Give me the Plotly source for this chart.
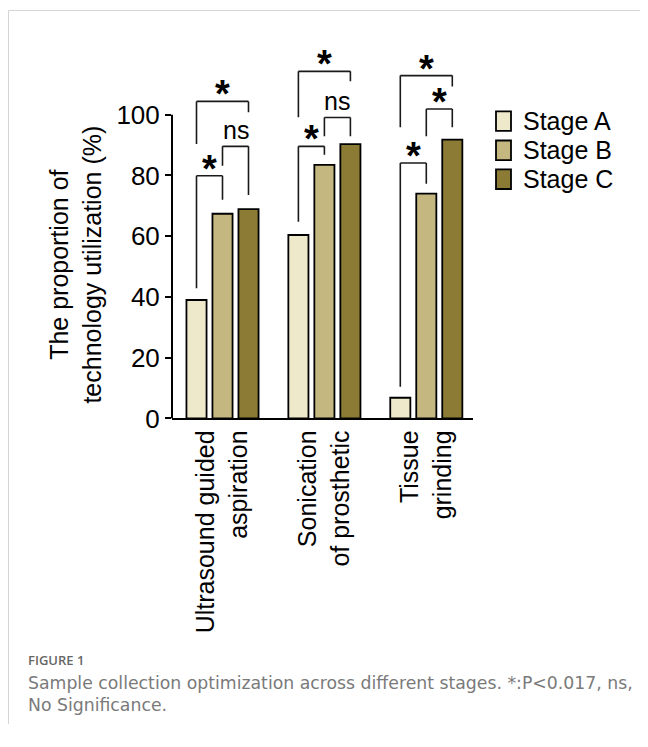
import plotly.graph_objects as go

# ---------------- data ----------------
categories = ["Ultrasound guided<br>aspiration", "Sonication<br>of prosthetic", "Tissue<br>grinding"]
series_names = ["Stage A", "Stage B", "Stage C"]
stage_a = [39.0, 60.4, 6.8]
stage_b = [67.4, 83.5, 74.0]
stage_c = [68.9, 90.3, 91.8]
y_ticks = [0, 20, 40, 60, 80, 100]

# significance brackets: group index, bar from, bar to, top height, left leg end, right leg end, label
brk_group = [0, 0, 0, 1, 1, 1, 2, 2, 2]
brk_from = [0, 1, 0, 0, 1, 0, 0, 1, 0]
brk_to = [1, 2, 2, 1, 2, 2, 1, 2, 2]
brk_top = [79.9, 89.6, 104.4, 89.6, 99.1, 114.3, 84.1, 101.9, 112.9]
brk_left_end = [42.9, 83.2, 90.4, 64.8, 92.9, 99.2, 10.4, 92.9, 95.9]
brk_right_end = [72.0, 73.6, 100.8, 86.8, 92.9, 111.0, 77.3, 95.9, 109.3]
brk_label = ["*", "ns", "*", "*", "ns", "*", "*", "*", "*"]

caption_title = "FIGURE 1"
caption_lines = ["Sample collection optimization across different stages. *:P<0.017, ns,",
                 "No Significance."]

# ---------------- styling / geometry (pixel positions of the page) ----------------
OFF = 8                      # default page body margin
FW, FH = 648 - 2 * OFF, 747 - 2 * OFF
colors = ["#EFE9CB", "#C4B880", "#8B7B34"]
FONT = "Liberation Sans, Arial, sans-serif"


def px(x):
    return (x - OFF) / FW


def py(y):
    return 1 - (y - OFF) / FH


AX_L, AX_R = 172, 473
AX_B, AX_T = 427, 40
Y100 = 117
unit_y = (AX_B - Y100) / 100.0
y_top = (AX_B - AX_T) / unit_y
unit_x = 101.9
x_left = (AX_L - 222.5) / unit_x
x_right = x_left + (AX_R - AX_L) / unit_x

bargap = 0.2346
bargroupgap = 0.227
slot = (1 - bargap) / 3.0

fig = go.Figure()
for name, vals, col in zip(series_names, [stage_a, stage_b, stage_c], colors):
    fig.add_trace(go.Bar(
        x=list(range(len(categories))), y=vals, name=name,
        marker=dict(color=col, line=dict(color="#000000", width=1.8)),
        showlegend=False,
    ))

shapes = []
annotations = []

# y axis line 0..100
shapes.append(dict(type="line", xref="paper", yref="y", x0=px(AX_L), x1=px(AX_L), y0=0, y1=100,
                   line=dict(color="#000000", width=2)))

# brackets
for g, a, b, top, le, re, lab in zip(brk_group, brk_from, brk_to, brk_top, brk_left_end, brk_right_end, brk_label):
    xa = g + (a - 1) * slot
    xb = g + (b - 1) * slot
    ln = dict(color="#1a1a1a", width=1.6)
    shapes.append(dict(type="line", xref="x", yref="y", x0=xa, x1=xb, y0=top, y1=top, line=ln))
    shapes.append(dict(type="line", xref="x", yref="y", x0=xa, x1=xa, y0=top, y1=le, line=ln))
    shapes.append(dict(type="line", xref="x", yref="y", x0=xb, x1=xb, y0=top, y1=re, line=ln))
    if lab == "*":
        annotations.append(dict(x=(xa + xb) / 2, y=top + 5.3, xref="x", yref="y", text="<b>*</b>",
                                showarrow=False, yanchor="middle", yshift=-9,
                                font=dict(family=FONT, size=38, color="#000000")))
    else:
        annotations.append(dict(x=(xa + xb) / 2, y=top + 5.4, xref="x", yref="y", text=lab,
                                showarrow=False, yanchor="middle", yshift=0,
                                font=dict(family=FONT, size=25, color="#000000")))

# legend (manual)
leg_rows = [123.5, 153.3, 182.8]
for name, col, cy in zip(series_names, colors, leg_rows):
    shapes.append(dict(type="rect", xref="paper", yref="paper",
                       x0=px(496), x1=px(511), y0=py(cy - 10), y1=py(cy + 10),
                       fillcolor=col, line=dict(color="#000000", width=1.8)))
    annotations.append(dict(x=px(521), y=py(cy), xref="paper", yref="paper", text=name,
                            showarrow=False, xanchor="left", yanchor="middle",
                            font=dict(family=FONT, size=25, color="#000000")))

# y title
annotations.append(dict(x=px(76), y=py(270), xref="paper", yref="paper",
                        text="The proportion of<br>technology utilization (%)",
                        showarrow=False, textangle=-90, xanchor="center", yanchor="middle",
                        font=dict(family=FONT, size=25, color="#000000")))

# frame
shapes.append(dict(type="line", xref="paper", yref="paper", x0=px(8.5), x1=1, y0=py(10.5), y1=py(10.5),
                   line=dict(color="#d4d4d4", width=1)))
shapes.append(dict(type="line", xref="paper", yref="paper", x0=px(8.5), x1=px(8.5), y0=py(10.5), y1=0,
                   line=dict(color="#d4d4d4", width=1)))

# caption
annotations.append(dict(x=px(26), y=py(674), xref="paper", yref="paper", text=caption_title,
                        showarrow=False, xanchor="left", yanchor="middle",
                        font=dict(family="Open Sans, sans-serif", size=13, color="#666666", weight=600)))
annotations.append(dict(x=px(26), y=py(708), xref="paper", yref="paper", text="<br>".join(caption_lines),
                        showarrow=False, xanchor="left", yanchor="middle", align="left",
                        font=dict(family="DejaVu Sans, sans-serif", size=17.3, color="#7a7a7a")))

fig.update_layout(
    width=FW, height=FH, autosize=False,
    margin=dict(l=0, r=0, t=0, b=0),
    paper_bgcolor="#ffffff", plot_bgcolor="#ffffff",
    barmode="group", bargap=bargap, bargroupgap=bargroupgap,
    shapes=shapes, annotations=annotations,
    xaxis=dict(domain=[px(AX_L), px(AX_R)], range=[x_left, x_right],
               tickvals=list(range(len(categories))), ticktext=categories,
               tickangle=-90, showline=True, linecolor="#000000", linewidth=2,
               ticks="", showgrid=False, zeroline=False,
               tickfont=dict(family=FONT, size=25, color="#000000")),
    yaxis=dict(domain=[py(AX_B), py(AX_T)], range=[0, y_top],
               tickvals=y_ticks, ticks="outside", ticklen=6, tickwidth=2, tickcolor="#000000",
               showline=False, showgrid=False, zeroline=False,
               tickfont=dict(family=FONT, size=26, color="#000000")),
)

fig.write_html("out.html")
